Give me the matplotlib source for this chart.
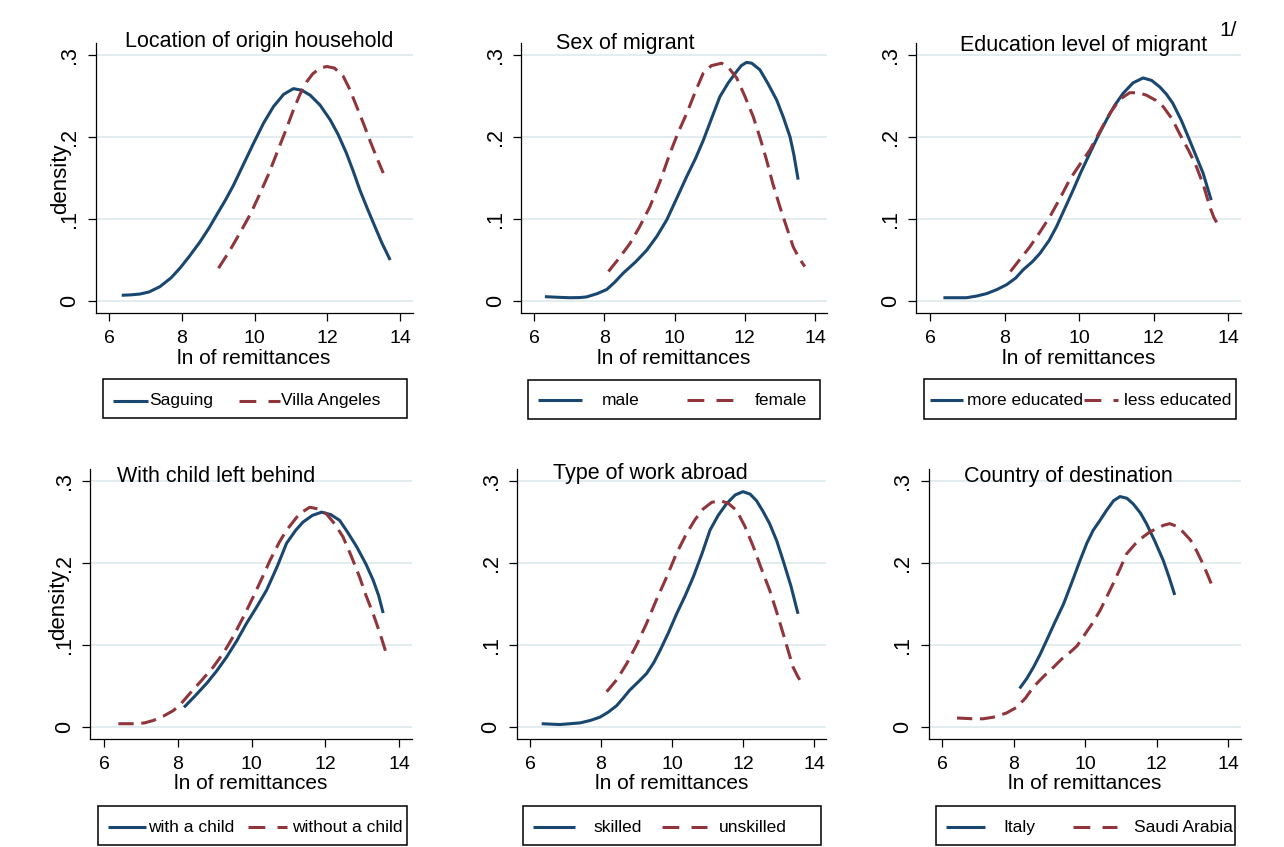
import matplotlib
matplotlib.use("Agg")
import matplotlib.pyplot as plt
from matplotlib.lines import Line2D
from matplotlib.patches import Rectangle

plt.rcParams['font.family'] = ['Liberation Sans', 'DejaVu Sans']

W, H = 1284, 847
NAVY = '#1a476f'
MAROON = '#90353b'
GRID = '#e3ecef'

# ---- kernel density estimates of ln(remittances), by group ----
# Location of origin household
x_saguing = [6.35, 6.6, 6.85, 7.1, 7.4, 7.7, 7.95, 8.2, 8.5, 8.75, 8.96, 9.2, 9.42, 9.7, 9.97, 10.25,
             10.52, 10.8, 11.07, 11.3, 11.53, 11.8, 12.08, 12.3, 12.53, 12.7, 12.9, 13.1, 13.27, 13.5, 13.73]
y_saguing = [0.007, 0.0075, 0.0085, 0.011, 0.0175, 0.028, 0.040, 0.054, 0.072, 0.089, 0.105, 0.123, 0.141,
             0.167, 0.192, 0.217, 0.237, 0.252, 0.259, 0.257, 0.251, 0.239, 0.221, 0.203, 0.180, 0.160,
             0.135, 0.113, 0.095, 0.071, 0.050]
x_villa = [9.01, 9.3, 9.6, 9.9, 10.15, 10.4, 10.61, 10.85, 11.07, 11.25, 11.43, 11.6, 11.8, 11.99, 12.2,
           12.44, 12.62, 12.81, 13.0, 13.17, 13.35, 13.54]
y_villa = [0.040, 0.060, 0.083, 0.107, 0.131, 0.156, 0.180, 0.207, 0.233, 0.252, 0.267, 0.277, 0.284,
           0.286, 0.284, 0.274, 0.258, 0.237, 0.216, 0.196, 0.176, 0.156]

# Sex of migrant
x_male = [6.31, 6.7, 7.02, 7.3, 7.5, 7.8, 8.07, 8.3, 8.54, 8.9, 9.21, 9.5, 9.78, 10.05, 10.35, 10.6,
          10.82, 11.05, 11.29, 11.53, 11.77, 11.9, 12.05, 12.2, 12.43, 12.65, 12.91, 13.1, 13.29, 13.4, 13.52]
y_male = [0.0053, 0.0045, 0.004, 0.0042, 0.005, 0.009, 0.014, 0.023, 0.034, 0.048, 0.062, 0.079, 0.099,
          0.124, 0.152, 0.174, 0.196, 0.222, 0.249, 0.266, 0.280, 0.287, 0.291, 0.290, 0.282, 0.266,
          0.245, 0.224, 0.200, 0.178, 0.148]
x_female = [8.12, 8.4, 8.73, 9.0, 9.30, 9.6, 9.87, 10.1, 10.35, 10.6, 10.82, 11.05, 11.34, 11.55, 11.77,
            12.0, 12.24, 12.45, 12.62, 12.8, 13.0, 13.2, 13.38, 13.55, 13.71]
y_female = [0.036, 0.051, 0.070, 0.090, 0.115, 0.147, 0.180, 0.205, 0.229, 0.256, 0.278, 0.287, 0.290,
            0.284, 0.272, 0.250, 0.225, 0.197, 0.172, 0.143, 0.115, 0.089, 0.066, 0.052, 0.042]

# Education level of migrant
x_more_edu = [6.36, 6.7, 6.98, 7.25, 7.52, 7.8, 8.06, 8.3, 8.50, 8.75, 8.95, 9.2, 9.40, 9.6, 9.84, 10.05,
              10.29, 10.5, 10.74, 10.95, 11.18, 11.45, 11.72, 11.95, 12.17, 12.35, 12.52, 12.75, 12.97,
              13.15, 13.33, 13.55]
y_more_edu = [0.004, 0.004, 0.004, 0.006, 0.009, 0.014, 0.020, 0.028, 0.038, 0.048, 0.058, 0.074, 0.091,
              0.111, 0.135, 0.157, 0.180, 0.200, 0.221, 0.238, 0.253, 0.266, 0.272, 0.269, 0.261, 0.252,
              0.241, 0.220, 0.196, 0.176, 0.156, 0.123]
x_less_edu = [8.16, 8.4, 8.68, 8.95, 9.22, 9.5, 9.75, 10.0, 10.29, 10.55, 10.83, 11.1, 11.36, 11.6, 11.81,
              12.05, 12.26, 12.5, 12.70, 12.95, 13.15, 13.35, 13.51, 13.62, 13.73]
y_less_edu = [0.036, 0.050, 0.066, 0.084, 0.103, 0.126, 0.148, 0.165, 0.184, 0.206, 0.229, 0.246, 0.254,
              0.254, 0.251, 0.245, 0.237, 0.222, 0.204, 0.183, 0.164, 0.140, 0.115, 0.102, 0.093]

# With child left behind
x_child = [8.17, 8.45, 8.78, 9.05, 9.32, 9.6, 9.86, 10.15, 10.41, 10.7, 10.95, 11.2, 11.40, 11.65, 11.90,
           12.15, 12.39, 12.6, 12.85, 13.1, 13.30, 13.45, 13.57]
y_child = [0.024, 0.037, 0.053, 0.068, 0.085, 0.105, 0.126, 0.147, 0.167, 0.196, 0.224, 0.240, 0.250,
           0.258, 0.262, 0.259, 0.252, 0.238, 0.220, 0.199, 0.179, 0.160, 0.139]
x_nochild = [6.39, 6.88, 7.1, 7.34, 7.6, 7.88, 8.1, 8.33, 8.65, 8.96, 9.25, 9.50, 9.8, 10.05, 10.3, 10.50,
             10.75, 10.95, 11.3, 11.58, 11.80, 12.03, 12.25, 12.48, 12.7, 12.93, 13.1, 13.30, 13.5, 13.66]
y_nochild = [0.004, 0.004, 0.005, 0.008, 0.013, 0.020, 0.029, 0.041, 0.057, 0.073, 0.091, 0.110, 0.136,
             0.159, 0.183, 0.203, 0.225, 0.240, 0.260, 0.268, 0.266, 0.260, 0.248, 0.232, 0.209, 0.183,
             0.161, 0.138, 0.112, 0.089]

# Type of work abroad
x_skilled = [6.33, 6.84, 7.41, 7.7, 7.97, 8.2, 8.44, 8.62, 8.81, 9.05, 9.28, 9.48, 9.66, 9.9, 10.13, 10.37,
             10.60, 10.85, 11.07, 11.3, 11.53, 11.78, 12.00, 12.2, 12.38, 12.55, 12.75, 12.95, 13.13,
             13.35, 13.55]
y_skilled = [0.004, 0.003, 0.005, 0.008, 0.012, 0.018, 0.026, 0.035, 0.045, 0.055, 0.065, 0.078, 0.093,
             0.115, 0.138, 0.160, 0.183, 0.212, 0.240, 0.258, 0.272, 0.283, 0.287, 0.284, 0.276, 0.264,
             0.248, 0.227, 0.203, 0.172, 0.138]
x_unskilled = [8.16, 8.45, 8.72, 9.0, 9.28, 9.55, 9.85, 10.12, 10.41, 10.65, 10.88, 11.12, 11.35, 11.58,
               11.82, 12.05, 12.29, 12.5, 12.75, 12.95, 13.13, 13.28, 13.41, 13.55, 13.69]
y_unskilled = [0.043, 0.058, 0.077, 0.100, 0.126, 0.154, 0.183, 0.211, 0.236, 0.253, 0.266, 0.274, 0.276,
               0.273, 0.264, 0.245, 0.220, 0.195, 0.167, 0.140, 0.114, 0.092, 0.073, 0.061, 0.051]

# Country of destination
x_italy = [8.17, 8.37, 8.56, 8.75, 8.93, 9.15, 9.40, 9.62, 9.86, 10.05, 10.23, 10.42, 10.60, 10.80, 10.98,
           11.17, 11.35, 11.55, 11.72, 11.95, 12.19, 12.35, 12.51]
y_italy = [0.047, 0.059, 0.073, 0.089, 0.106, 0.127, 0.150, 0.175, 0.203, 0.224, 0.240, 0.252, 0.264,
           0.276, 0.281, 0.279, 0.272, 0.261, 0.248, 0.227, 0.203, 0.183, 0.161]
x_saudi = [6.42, 6.88, 7.15, 7.44, 7.8, 8.09, 8.33, 8.56, 8.85, 9.12, 9.35, 9.58, 9.78, 9.95, 10.2, 10.42,
           10.6, 10.79, 10.98, 11.16, 11.4, 11.63, 11.82, 12.00, 12.2, 12.37, 12.55, 12.74, 12.95, 13.12,
           13.32, 13.53]
y_saudi = [0.011, 0.010, 0.010, 0.012, 0.017, 0.024, 0.035, 0.049, 0.062, 0.073, 0.083, 0.091, 0.099,
           0.110, 0.126, 0.142, 0.158, 0.175, 0.193, 0.211, 0.223, 0.232, 0.238, 0.242, 0.246, 0.248,
           0.245, 0.238, 0.228, 0.215, 0.197, 0.175]

panel_titles = ['Location of origin household', 'Sex of migrant', 'Education level of migrant',
                'With child left behind', 'Type of work abroad', 'Country of destination']
series_x = [(x_saguing, x_villa), (x_male, x_female), (x_more_edu, x_less_edu),
            (x_child, x_nochild), (x_skilled, x_unskilled), (x_italy, x_saudi)]
series_y = [(y_saguing, y_villa), (y_male, y_female), (y_more_edu, y_less_edu),
            (y_child, y_nochild), (y_skilled, y_unskilled), (y_italy, y_saudi)]
legend_labels = [('Saguing', 'Villa Angeles'), ('male', 'female'), ('more educated', 'less educated'),
                 ('with a child', 'without a child'), ('skilled', 'unskilled'), ('Italy', 'Saudi Arabia')]

x_ticks = [6, 8, 10, 12, 14]
y_ticks = [0, 0.1, 0.2, 0.3]
y_tick_labels = ['0', '.1', '.2', '.3']
x_label = 'ln of remittances'
y_label = 'density'
footnote = '1/'

XLIM = (5.63, 14.35)
YLIM = (-0.0146, 0.3146)

# pixel placement of each panel (Stata-style combined graph)
layout = [
    dict(x6=109, x14=400, y0=301, y3=55, title=(125, 42), xl=358,
         box=(103, 379, 407, 418), leg=((113, 148, 149), (239, 280, 281)), ly=401, ylab=(61, 179)),
    dict(x6=534, x14=815, y0=301, y3=55, title=(556, 44), xl=358,
         box=(528, 380, 820, 419), leg=((538, 582, 602), (687, 733, 755)), ly=400, ylab=None),
    dict(x6=930, x14=1228, y0=301, y3=55, title=(960, 46), xl=358,
         box=(924, 379, 1236, 419), leg=((930, 963, 967), (1084, 1118, 1124)), ly=400, ylab=None),
    dict(x6=104, x14=399, y0=727, y3=481, title=(117, 476), xl=783,
         box=(98, 806, 407, 845), leg=((108, 146, 148), (248, 287, 292)), ly=827, ylab=(59, 605)),
    dict(x6=530, x14=814, y0=727, y3=481, title=(553, 473), xl=783,
         box=(523, 806, 821, 845), leg=((533, 575, 593), (662, 707, 719)), ly=827, ylab=None),
    dict(x6=942, x14=1228, y0=727, y3=481, title=(964, 476), xl=783,
         box=(936, 806, 1235, 845), leg=((946, 985, 1003), (1073, 1117, 1134)), ly=827, ylab=None),
]


def fx(px):
    return px / W


def fy(py):
    return 1 - py / H


fig = plt.figure(figsize=(W / 100, H / 100), dpi=100)
fig.patch.set_facecolor('white')

LW = 2.2
DASH = (5, 2.5)

for i, lay in enumerate(layout):
    sx = (lay['x14'] - lay['x6']) / 8.0
    sy = (lay['y0'] - lay['y3']) / 0.3
    left = lay['x6'] - (6 - XLIM[0]) * sx
    right = lay['x6'] + (XLIM[1] - 6) * sx
    top = lay['y0'] - YLIM[1] * sy
    bottom = lay['y0'] - YLIM[0] * sy
    ax = fig.add_axes([fx(left), fy(bottom), (right - left) / W, (bottom - top) / H])

    xs1, xs2 = series_x[i]
    ys1, ys2 = series_y[i]
    ax.plot(xs1, ys1, color=NAVY, lw=LW, solid_capstyle='butt', solid_joinstyle='round')
    ax.plot(xs2, ys2, color=MAROON, lw=LW, dashes=DASH, dash_capstyle='butt', dash_joinstyle='round')

    ax.set_xlim(*XLIM)
    ax.set_ylim(*YLIM)
    ax.set_xticks(x_ticks)
    ax.set_yticks(y_ticks, y_tick_labels)
    ax.grid(axis='y', color=GRID, lw=1.4)
    ax.grid(axis='x', visible=False)
    ax.set_axisbelow(True)
    for s in ('top', 'right'):
        ax.spines[s].set_visible(False)
    for s in ('left', 'bottom'):
        ax.spines[s].set_linewidth(0.9)
    ax.tick_params(direction='out', length=6, width=0.9, labelsize=14, pad=6, colors='black')
    ax.tick_params(axis='y', labelsize=15.5, pad=5)
    for lbl in ax.get_yticklabels():
        lbl.set_rotation(90)
        lbl.set_va('center')
        lbl.set_ha('right')

    fig.text(fx(lay['title'][0]), fy(lay['title'][1]), panel_titles[i],
             fontsize=15.5, ha='left', va='center')
    fig.text(fx((left + right) / 2), fy(lay['xl']), x_label,
             fontsize=15, ha='center', va='center')
    if lay['ylab'] is not None:
        fig.text(fx(lay['ylab'][0]), fy(lay['ylab'][1]), y_label, rotation=90,
                 fontsize=16, ha='center', va='center')

    # legend box below each panel
    bx0, by0, bx1, by1 = lay['box']
    fig.add_artist(Rectangle((fx(bx0), fy(by1)), (bx1 - bx0) / W, (by1 - by0) / H,
                             transform=fig.transFigure, fill=False, ec='black', lw=1.1))
    (a0, a1, at), (b0, b1, bt) = lay['leg']
    ly = lay['ly']
    fig.add_artist(Line2D([fx(a0), fx(a1)], [fy(ly), fy(ly)], transform=fig.transFigure,
                          color=NAVY, lw=LW, solid_capstyle='butt'))
    fig.add_artist(Line2D([fx(b0), fx(b1)], [fy(ly), fy(ly)], transform=fig.transFigure,
                          color=MAROON, lw=LW, dashes=(5.5, 4), dash_capstyle='butt'))
    lab1, lab2 = legend_labels[i]
    fig.text(fx(at), fy(ly), lab1, fontsize=12.5, ha='left', va='center')
    fig.text(fx(bt), fy(ly), lab2, fontsize=12.5, ha='left', va='center')

fig.text(fx(1219), fy(31), footnote, fontsize=15, ha='left', va='center')

fig.savefig('out.png', dpi=100, facecolor='white')
